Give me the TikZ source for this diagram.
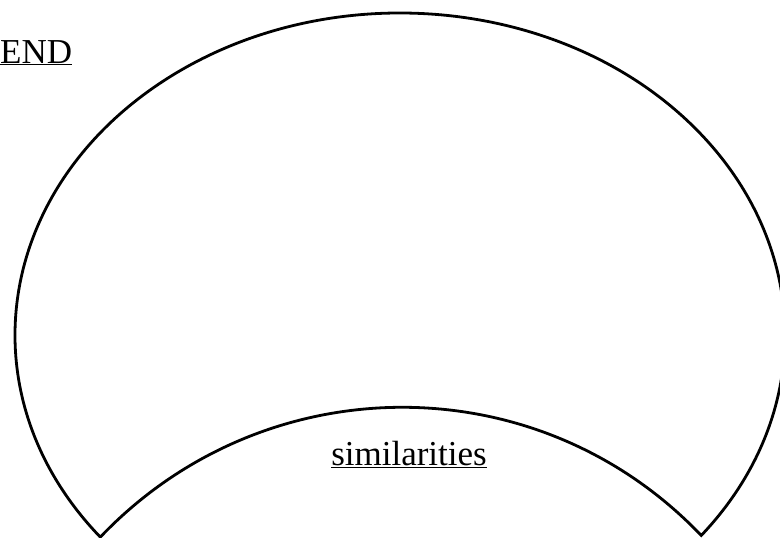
\documentclass[tikz,border=0pt]{standalone}
\usepackage{fontspec}
\setmainfont{Liberation Serif}
\begin{document}
\begin{tikzpicture}[x=1pt,y=-1pt,
  outline/.style={line width=2.8pt, line join=miter},
  lbl/.style={inner sep=0pt, font=\fontsize{35}{42}\selectfont}]
\useasboundingbox (0,0) rectangle (780,538);
\coordinate (L) at (100.3,537.1);
\draw[outline] (L) arc[start angle=141.12, end angle=398.51, x radius=385, y radius=322] coordinate (R)
  .. controls +(-164,-172) and +(164,-172) .. (L) -- cycle;
\node[lbl, anchor=base west] (legend) at (0,63) {\underline{END}};
\node[lbl, anchor=base east] (sim) at (487,465) {\underline{similarities}};
\end{tikzpicture}
\end{document}
